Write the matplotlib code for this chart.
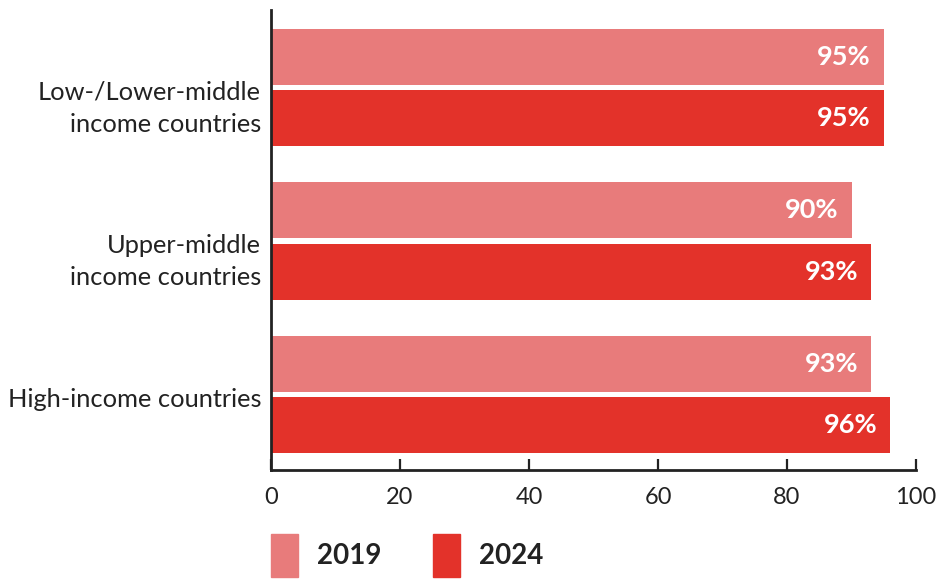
import numpy as np
import matplotlib
matplotlib.use('Agg')
import matplotlib.pyplot as plt
from matplotlib import transforms

plt.rcParams['font.family'] = ['Lato', 'DejaVu Sans']

categories = ["Low-/Lower-middle\nincome countries",
              "Upper-middle\nincome countries",
              "High-income countries"]
years = ["2019", "2024"]
values_2019 = [95, 90, 93]
values_2024 = [95, 93, 96]
x_ticks = [0, 20, 40, 60, 80, 100]

c_2019 = '#E87B7B'
c_2024 = '#E3322A'
ink = '#222222'

fig = plt.figure(figsize=(9.39, 5.79), dpi=100)
ax = fig.add_axes([271 / 939, 109 / 579, 645 / 939, 460 / 579])

pos = np.arange(len(categories))
h = 0.365
off = 0.199
for vals, dy, col in [(values_2019, -off, c_2019), (values_2024, off, c_2024)]:
    ax.barh(pos + dy, vals, height=h, color=col, edgecolor='none')
    for p, v in zip(pos, vals):
        ax.text(v - 2.0, p + dy, f"{v}%", ha='right', va='center',
                color='white', fontsize=19.5, fontweight='bold')

ax.set_xlim(0, 100)
ax.set_ylim(2.492, -0.505)
ax.set_xticks(x_ticks)
ax.set_xticklabels([str(t) for t in x_ticks])
ax.set_yticks(pos)
ax.set_yticklabels([])

# category labels: first line on the group centre, next lines hang below
for p, cat in zip(pos, categories):
    for k, line in enumerate(cat.split("\n")):
        tr = transforms.offset_copy(ax.get_yaxis_transform(), fig=fig,
                                    x=-7.2, y=-2 - 23 * k, units='points')
        ax.text(0, p, line, transform=tr, ha='right', va='center_baseline',
                fontsize=18.3, color=ink)

ax.tick_params(axis='x', direction='in', length=8, width=1.6, color=ink,
               labelsize=17, labelcolor=ink, pad=12)
ax.tick_params(axis='y', length=0)
for s in ['top', 'right']:
    ax.spines[s].set_visible(False)
for s in ['left', 'bottom']:
    ax.spines[s].set_linewidth(2)
    ax.spines[s].set_color(ink)

# legend drawn as patches below the axis
for i, (yr, col) in enumerate(zip(years, [c_2019, c_2024])):
    x0 = (271 + i * 162) / 939
    fig.patches.append(plt.Rectangle((x0, 2 / 579), 27 / 939, 43 / 579,
                                     transform=fig.transFigure, color=col))
    fig.text(x0 + 46 / 939, 23 / 579, yr, ha='left', va='center',
             fontsize=20, fontweight='bold', color=ink)

fig.savefig('out.png', dpi=100)
